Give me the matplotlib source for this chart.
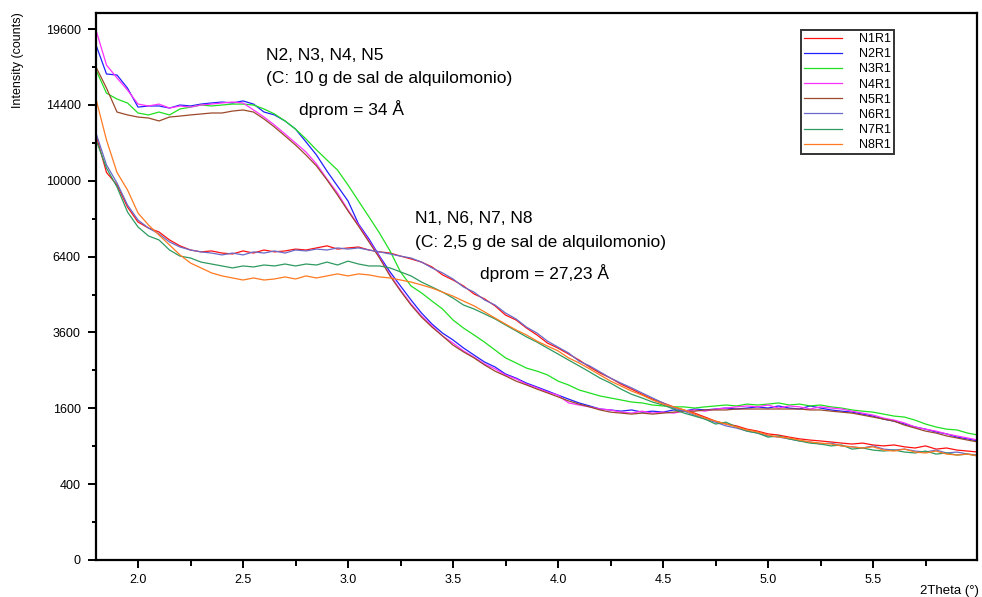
import numpy as np
import matplotlib
matplotlib.use("Agg")
import matplotlib.pyplot as plt
from matplotlib.ticker import FixedLocator, FixedFormatter

plt.rcParams['font.family'] = ['Liberation Sans', 'DejaVu Sans']

# 2Theta sampling (degrees)
two_theta = np.round(np.arange(85) * 0.05 + 1.80, 2)

N1R1 = [12560, 10440, 9775, 8660, 7940, 7660, 7480, 7120, 6860, 6680,
        6600, 6640, 6550, 6510, 6640, 6550, 6680, 6600, 6640, 6720,
        6680, 6770, 6860, 6720, 6770, 6810, 6680, 6600, 6550, 6420,
        6300, 6170, 5970, 5650, 5450, 5220, 4920, 4740, 4490, 4170,
        4005, 3740, 3520, 3270, 3120, 2950, 2780, 2590, 2430, 2300,
        2150, 2030, 1910, 1800, 1715, 1630, 1565, 1500, 1420, 1340,
        1285, 1250, 1190, 1155, 1105, 1085, 1050, 1020, 1000, 985,
        968, 950, 935, 950, 920, 905, 920, 890, 872, 905,
        855, 872, 840, 825, 810]

N2R1 = [18440, 16420, 16350, 15480, 14260, 14330, 14330, 14200, 14390, 14330,
        14450, 14520, 14580, 14520, 14650, 14450, 13950, 13770, 13400, 12910,
        12150, 11400, 10510, 9720, 8960, 7850, 7160, 6420, 5770, 5220,
        4700, 4240, 3870, 3580, 3365, 3125, 2920, 2725, 2590, 2405,
        2300, 2175, 2080, 1985, 1890, 1800, 1715, 1650, 1585, 1565,
        1540, 1565, 1520, 1540, 1520, 1565, 1540, 1585, 1565, 1585,
        1605, 1585, 1605, 1630, 1605, 1650, 1605, 1585, 1650, 1605,
        1565, 1540, 1520, 1480, 1440, 1380, 1340, 1285, 1230, 1190,
        1140, 1105, 1050, 1020, 985]

N3R1 = [16690, 15150, 14770, 14520, 13890, 13770, 13950, 13770, 14140, 14260,
        14390, 14330, 14390, 14450, 14450, 14390, 14140, 13830, 13400, 12910,
        12320, 11690, 11120, 10570, 9775, 8960, 8180, 7430, 6640, 5770,
        5220, 4960, 4660, 4380, 4005, 3740, 3520, 3300, 3065, 2840,
        2700, 2560, 2480, 2380, 2225, 2130, 2010, 1940, 1870, 1825,
        1780, 1735, 1715, 1670, 1650, 1630, 1630, 1605, 1630, 1650,
        1670, 1650, 1690, 1670, 1690, 1715, 1670, 1690, 1650, 1670,
        1630, 1605, 1565, 1540, 1520, 1480, 1440, 1420, 1360, 1285,
        1230, 1190, 1175, 1120, 1085]

N4R1 = [19520, 17030, 16150, 15350, 14450, 14330, 14450, 14200, 14330, 14260,
        14390, 14450, 14520, 14580, 14520, 14080, 13640, 13150, 12620, 12090,
        11570, 10900, 10090, 9360, 8515, 7800, 7080, 6380, 5650, 5070,
        4560, 4140, 3810, 3490, 3270, 3040, 2860, 2670, 2540, 2380,
        2280, 2150, 2060, 1960, 1890, 1715, 1670, 1630, 1585, 1565,
        1520, 1500, 1540, 1500, 1520, 1500, 1540, 1565, 1540, 1585,
        1605, 1630, 1650, 1630, 1670, 1605, 1650, 1630, 1585, 1630,
        1605, 1585, 1540, 1500, 1460, 1400, 1360, 1305, 1230, 1190,
        1155, 1105, 1070, 1035, 1000]

N5R1 = [16890, 15480, 13950, 13770, 13640, 13580, 13400, 13640, 13700, 13770,
        13830, 13890, 13890, 14010, 14080, 13950, 13520, 13030, 12500, 11970,
        11400, 10790, 10040, 9260, 8470, 7750, 7030, 6340, 5610, 5030,
        4520, 4100, 3770, 3490, 3210, 3010, 2840, 2645, 2480, 2355,
        2225, 2130, 2030, 1940, 1850, 1760, 1690, 1630, 1565, 1520,
        1500, 1480, 1500, 1480, 1500, 1520, 1540, 1540, 1565, 1565,
        1565, 1585, 1585, 1585, 1585, 1585, 1585, 1585, 1565, 1565,
        1540, 1520, 1500, 1460, 1420, 1380, 1340, 1265, 1210, 1155,
        1120, 1070, 1035, 1000, 968]

N6R1 = [12670, 10850, 9880, 8760, 8035, 7660, 7390, 7030, 6810, 6680,
        6600, 6550, 6470, 6550, 6470, 6600, 6550, 6640, 6550, 6680,
        6640, 6720, 6680, 6770, 6720, 6770, 6680, 6600, 6510, 6420,
        6340, 6170, 5930, 5730, 5490, 5180, 4990, 4700, 4520, 4240,
        4040, 3770, 3580, 3330, 3150, 2980, 2750, 2620, 2460, 2300,
        2175, 2060, 1940, 1825, 1715, 1605, 1540, 1460, 1380, 1320,
        1250, 1210, 1155, 1120, 1070, 1050, 1020, 985, 968, 935,
        950, 905, 890, 872, 905, 855, 840, 855, 825, 810,
        840, 796, 810, 780, 766]

N7R1 = [12260, 10680, 9670, 8420, 7710, 7300, 7120, 6680, 6420, 6340,
        6170, 6090, 6010, 5930, 6010, 5970, 6050, 6010, 6090, 6010,
        6090, 6050, 6170, 6050, 6210, 6090, 6010, 6010, 5930, 5770,
        5610, 5370, 5180, 4990, 4770, 4520, 4380, 4210, 4040, 3840,
        3650, 3460, 3300, 3120, 2950, 2780, 2620, 2460, 2300, 2175,
        2030, 1910, 1825, 1735, 1670, 1585, 1500, 1440, 1380, 1285,
        1320, 1230, 1155, 1120, 1050, 1070, 1020, 985, 950, 935,
        905, 920, 855, 872, 840, 825, 840, 810, 796, 825,
        780, 796, 766, 780, 752]

N8R1 = [14770, 12260, 10440, 9520, 8370, 7800, 7340, 6900, 6470, 6130,
        5930, 5730, 5610, 5530, 5450, 5530, 5450, 5490, 5570, 5490,
        5610, 5530, 5610, 5690, 5610, 5690, 5650, 5570, 5530, 5450,
        5370, 5260, 5140, 4990, 4840, 4660, 4490, 4280, 4070, 3870,
        3680, 3520, 3330, 3180, 3040, 2840, 2700, 2540, 2380, 2225,
        2105, 1985, 1890, 1780, 1690, 1630, 1565, 1480, 1400, 1340,
        1285, 1230, 1175, 1140, 1085, 1050, 1035, 1000, 968, 950,
        935, 905, 890, 872, 890, 840, 825, 855, 810, 796,
        825, 780, 766, 780, 752]

series_names = ["N1R1", "N2R1", "N3R1", "N4R1", "N5R1", "N6R1", "N7R1", "N8R1"]
series_values = [N1R1, N2R1, N3R1, N4R1, N5R1, N6R1, N7R1, N8R1]
series_colors = ["#ff1010", "#2020ff", "#20e020", "#ff30ff",
                 "#9a4a2a", "#6a6ac8", "#2e9a60", "#ff7a20"]

y_major = [0, 400, 1600, 3600, 6400, 10000, 14400, 19600]
y_minor = [100, 900, 2500, 4900, 8100, 12100, 16900]
x_major = [2.0, 2.5, 3.0, 3.5, 4.0, 4.5, 5.0, 5.5]
x_major_labels = ["2.0", "2.5", "3.0", "3.5", "4.0", "4.5", "5.0", "5.5"]
x_minor = [2.25, 2.75, 3.25, 3.75, 4.25, 4.75, 5.25, 5.75]

W, H = 982, 597
fig = plt.figure(figsize=(W / 100, H / 100), dpi=100)
ax = fig.add_axes([96 / W, (H - 560) / H, (977 - 96) / W, (560 - 13) / H])

ax.set_yscale('function', functions=(lambda v: np.sqrt(np.clip(v, 0, None)),
                                     lambda s: np.square(s)))

for name, vals, col in zip(series_names, series_values, series_colors):
    ax.plot(two_theta, vals, color=col, lw=0.9, label=name)

ax.set_xlim(1.8, 5.995)
ax.set_ylim(0, 20800)

ax.yaxis.set_major_locator(FixedLocator(y_major))
ax.yaxis.set_major_formatter(FixedFormatter([str(v) for v in y_major]))
ax.yaxis.set_minor_locator(FixedLocator(y_minor))
ax.xaxis.set_major_locator(FixedLocator(x_major))
ax.xaxis.set_major_formatter(FixedFormatter(x_major_labels))
ax.xaxis.set_minor_locator(FixedLocator(x_minor))

for sp in ax.spines.values():
    sp.set_linewidth(1.6)
    sp.set_color('black')

ax.tick_params(axis='y', which='major', direction='out', length=6, width=1.4,
               labelsize=9, pad=5)
ax.tick_params(axis='y', which='minor', direction='out', length=3, width=1.4)
ax.tick_params(axis='x', which='major', direction='out', length=6, width=1.4,
               labelsize=9, pad=4)
ax.tick_params(axis='x', which='minor', direction='out', length=4, width=1.4)

fig.text(18 / W, 1 - 12 / H, "Intensity (counts)", rotation=90,
         ha='center', va='top', fontsize=9)
fig.text(979 / W, 1 - 591 / H, "2Theta (°)", ha='right', va='center', fontsize=9.5)

fs = 12.5
fig.text(266 / W, 1 - 55 / H, "N2, N3, N4, N5", ha='left', va='center', fontsize=fs)
fig.text(266 / W, 1 - 78 / H, "(C: 10 g de sal de alquilomonio)", ha='left', va='center', fontsize=fs)
fig.text(299 / W, 1 - 109 / H, "dprom = 34 Å", ha='left', va='center', fontsize=fs)
fig.text(415 / W, 1 - 219 / H, "N1, N6, N7, N8", ha='left', va='center', fontsize=fs)
fig.text(415 / W, 1 - 242 / H, "(C: 2,5 g de sal de alquilomonio)", ha='left', va='center', fontsize=fs)
fig.text(480 / W, 1 - 273 / H, "dprom = 27,23 Å", ha='left', va='center', fontsize=fs)

leg = ax.legend(loc='upper left', bbox_to_anchor=(801 / W, 1 - 30 / H),
                bbox_transform=fig.transFigure, borderaxespad=0,
                fontsize=9, frameon=True, fancybox=False, edgecolor='black',
                handlelength=3.0, handletextpad=1.4, labelspacing=0.25,
                borderpad=0.25, markerfirst=True)
leg.get_frame().set_linewidth(1.4)

fig.savefig("out.png", dpi=100)
